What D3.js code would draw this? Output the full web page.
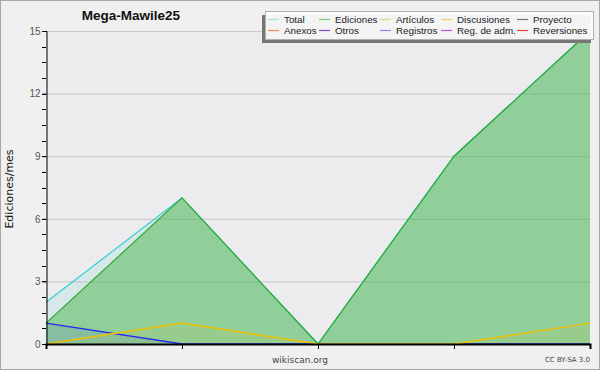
<!DOCTYPE html>
<html>
<head>
<meta charset="utf-8">
<script src="https://cdn.jsdelivr.net/npm/d3@7"></script>
<style>
body { margin:0; background:#f0f0f0; }
svg { display:block; font-family:"DejaVu Sans", sans-serif; }
</style>
</head>
<body>
<svg id="chart" width="600" height="370"></svg>
<script>
// months (no labels shown on the axis)
let months = [0, 1, 2, 3, 4];
let total = [2, 7, 0, 9, 15];
let ediciones = [1, 7, 0, 9, 15];
let registros = [1, 0, 0, 0, 0];
let discusiones = [0, 1, 0, 0, 1];
let yTicks = [0, 3, 6, 9, 12, 15];

let legendNames = ["Total","Ediciones","Artículos","Discusiones","Proyecto",
                   "Anexos","Otros","Registros","Reg. de adm.","Reversiones"];
let legendColors = ["#a8e4e0","#84c884","#c8e870","#f4cc60","#707070",
                    "#f08850","#8848c8","#8888f0","#c850e0","#e84040"];

let svg = d3.select("#chart");
let plotL = 46, plotR = 590, plotT = 31, plotB = 344;

let x = d3.scaleLinear().domain([0, 4]).range([plotL, plotR]);
let y = d3.scaleLinear().domain([0, 15]).range([plotB, plotT]);

// background + border
svg.append("rect").attr("x",0.5).attr("y",0.5).attr("width",599).attr("height",369)
    .attr("fill","#f0f0f0").attr("stroke","#a8a8a8");
svg.append("rect").attr("x",plotL).attr("y",plotT).attr("width",plotR-plotL).attr("height",plotB-plotT)
    .attr("fill","#ececef");

// grid
svg.append("g").selectAll("line").data(yTicks.slice(1)).enter()
    .append("line")
    .attr("x1",plotL).attr("x2",plotR)
    .attr("y1",d=>y(d)+0.5).attr("y2",d=>y(d)+0.5)
    .attr("stroke","#c8c8c8");

let area = d3.area().x((d,i)=>x(months[i])).y0(y(0)).y1(d=>y(d));
let line = d3.line().x((d,i)=>x(months[i])).y(d=>y(d));

svg.append("path").attr("d",area(total)).attr("fill","#40d0d0").attr("fill-opacity",0.12);
svg.append("path").attr("d",area(ediciones)).attr("fill","#40b040").attr("fill-opacity",0.47);
svg.append("path").attr("d",area(registros)).attr("fill","#3030f0").attr("fill-opacity",0.1);
svg.append("path").attr("d",area(discusiones)).attr("fill","#f0c000").attr("fill-opacity",0.08);

svg.append("path").attr("d",line(total)).attr("fill","none").attr("stroke","#30d0d0").attr("stroke-width",1.2);
svg.append("path").attr("d",line(ediciones)).attr("fill","none").attr("stroke","#30a830").attr("stroke-width",1.2);
svg.append("path").attr("d",line(registros)).attr("fill","none").attr("stroke","#2828f0").attr("stroke-width",1.3);
svg.append("path").attr("d",line(discusiones)).attr("fill","none").attr("stroke","#f0c000").attr("stroke-width",1.5);

// y axis
let yAxis = d3.axisLeft(y).tickValues(yTicks).tickSize(4).tickPadding(2);
let yg = svg.append("g").attr("transform","translate("+(plotL+0.5)+",0)").call(yAxis);
yg.select(".domain").attr("stroke","#000");
yg.selectAll(".tick line").attr("stroke","#000");
yg.selectAll("text").attr("fill","#555").style("font-size","10px");
let minor = d3.range(0, 15.01, 0.75);
svg.append("g").selectAll("line").data(minor).enter().append("line")
    .attr("x1",plotL-4).attr("x2",plotL)
    .attr("y1",d=>Math.round(y(d))+0.5).attr("y2",d=>Math.round(y(d))+0.5)
    .attr("stroke","#000");

// x axis (drawn over the zero-valued lines, as in the original)
let xAxis = d3.axisBottom(x).tickValues(months).tickSize(5).tickFormat("");
let xg = svg.append("g").attr("transform","translate(0,"+plotB+")").call(xAxis);
xg.select(".domain").attr("stroke","#000").attr("stroke-width",2);
xg.selectAll(".tick line").attr("stroke","#000");

// texts
svg.append("text").attr("x",131).attr("y",20).attr("text-anchor","middle")
    .style("font-family","'Liberation Sans', sans-serif")
    .style("font-size","13.5px").style("font-weight","bold").attr("fill","#111").text("Mega-Mawile25");
svg.append("text").attr("transform","translate(13,189) rotate(-90)").attr("text-anchor","middle")
    .style("font-size","11px").attr("fill","#111").text("Ediciones/mes");
svg.append("text").attr("x",300).attr("y",363).attr("text-anchor","middle")
    .style("font-size","9px").attr("fill","#444").text("wikiscan.org");
svg.append("text").attr("x",590).attr("y",362).attr("text-anchor","end")
    .style("font-size","7px").attr("fill","#444").text("CC BY-SA 3.0");

// legend
let lg = svg.append("g");
lg.append("rect").attr("x",262).attr("y",15).attr("width",329).attr("height",28).attr("fill","#777");
lg.append("rect").attr("x",265.5).attr("y",11.5).attr("width",328).attr("height",28)
    .attr("fill","#fff").attr("fill-opacity",0.92).attr("stroke","#b0b0b0");
let colX = [268, 319, 380, 441, 517];
let items = lg.selectAll("g.item").data(legendNames).enter().append("g")
    .attr("transform",(d,i)=>"translate("+colX[i%5]+","+(i<5?19:30)+")");
items.append("line").attr("x1",0).attr("x2",11).attr("y1",0.5).attr("y2",0.5)
    .attr("stroke",(d,i)=>legendColors[i]).attr("stroke-width",1.2);
items.append("text").attr("x",16).attr("y",4)
    .style("font-family","'Liberation Sans', sans-serif").style("font-size","9.8px")
    .attr("fill","#222").text(d=>d);
</script>
</body>
</html>
